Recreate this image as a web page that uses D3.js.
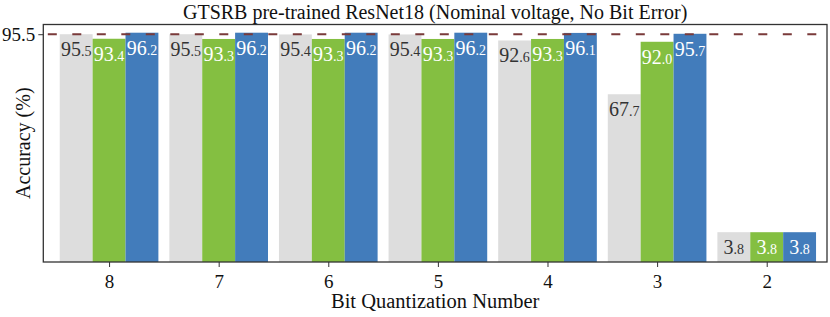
<!DOCTYPE html>
<html><head><meta charset="utf-8">
<script src="https://cdn.jsdelivr.net/npm/d3@7"></script>
<style>
body{margin:0;background:#fff;}
text{font-family:"Liberation Serif","DejaVu Serif",serif;}
</style></head>
<body><svg id="c" width="830" height="317"></svg>
<script>
const categories = ["8","7","6","5","4","3","2"];
const grayValues  = [95.5, 95.5, 95.4, 95.4, 92.6, 67.7, 3.8];
const greenValues = [93.4, 93.3, 93.3, 93.3, 93.3, 92.0, 3.8];
const blueValues  = [96.2, 96.2, 96.2, 96.2, 96.1, 95.7, 3.8];
const refValue = 95.5;
const yTicks = [95.5];
const title = "GTSRB pre-trained ResNet18 (Nominal voltage, No Bit Error)";
const xTitle = "Bit Quantization Number";
const yTitle = "Accuracy (%)";

const colors = ["#dddddd", "#84bf41", "#427cbb"];
const labelColors = ["#333333", "#ffffff", "#ffffff"];
const series = [grayValues, greenValues, blueValues];

const svg = d3.select("#c");
const L = 43.3, R = 827, T = 24.5, B = 262;
const x = d3.scaleLinear().domain([-0.6, 6.55]).range([L, R]);
const y = d3.scaleLinear().domain([-10, 100]).range([B, T]);
const bw = 0.3;

const g = svg.append("g");
series.forEach((vals, s) => {
  g.selectAll(null).data(vals).enter().append("rect")
    .attr("x", (d, i) => x(i + (s - 1) * bw - bw / 2))
    .attr("width", x(bw) - x(0))
    .attr("y", d => y(d))
    .attr("height", d => B - y(d))
    .attr("fill", colors[s]);
});

series.forEach((vals, s) => {
  const t = g.selectAll(null).data(vals).enter().append("text")
    .attr("x", (d, i) => x(i + (s - 1) * bw))
    .attr("y", d => y(d) + 22)
    .attr("text-anchor", "middle")
    .attr("fill", labelColors[s])
    .style("font-size", "20px");
  t.each(function(d) {
    const parts = d.toFixed(1).split(".");
    const el = d3.select(this);
    el.append("tspan").text(parts[0]);
    el.append("tspan").style("font-size", "14px").text("." + parts[1]);
  });
});

svg.append("line")
  .attr("x1", L).attr("x2", R)
  .attr("y1", y(refValue)).attr("y2", y(refValue))
  .attr("stroke", "#7a3a3a").attr("stroke-width", 2)
  .attr("stroke-dasharray", "9,15.5").attr("stroke-dashoffset", -4.5);

svg.append("rect").attr("x", L).attr("y", T).attr("width", R - L).attr("height", B - T)
  .attr("fill", "none").attr("stroke", "#333").attr("stroke-width", 1.3);

const xAxis = d3.axisBottom(x).tickValues(d3.range(categories.length))
  .tickFormat(i => categories[i]).tickSize(5).tickSizeOuter(0);
const xa = svg.append("g").attr("transform", `translate(0,${B})`).call(xAxis);
xa.select(".domain").remove();
xa.selectAll("line").attr("stroke", "#333");
xa.selectAll("text").style("font-size", "19px").attr("fill", "#111").attr("dy", "0.95em");

const yAxis = d3.axisLeft(y).tickValues(yTicks).tickFormat(d => d.toFixed(1)).tickSize(5).tickSizeOuter(0);
const ya = svg.append("g").attr("transform", `translate(${L},0)`).call(yAxis);
ya.select(".domain").remove();
ya.selectAll("line").attr("stroke", "#333");
ya.selectAll("text").style("font-size", "19px").attr("fill", "#111");

svg.append("text").attr("x", (L + R) / 2).attr("y", 18.5).attr("text-anchor", "middle")
  .style("font-size", "20px").attr("fill", "#111").text(title);
svg.append("text").attr("x", (L + R) / 2).attr("y", 308).attr("text-anchor", "middle")
  .style("font-size", "20.5px").attr("fill", "#111").text(xTitle);
svg.append("text").attr("transform", `translate(30,${(T + B) / 2}) rotate(-90)`)
  .attr("text-anchor", "middle").style("font-size", "20px").attr("fill", "#111").text(yTitle);
</script></body></html>
